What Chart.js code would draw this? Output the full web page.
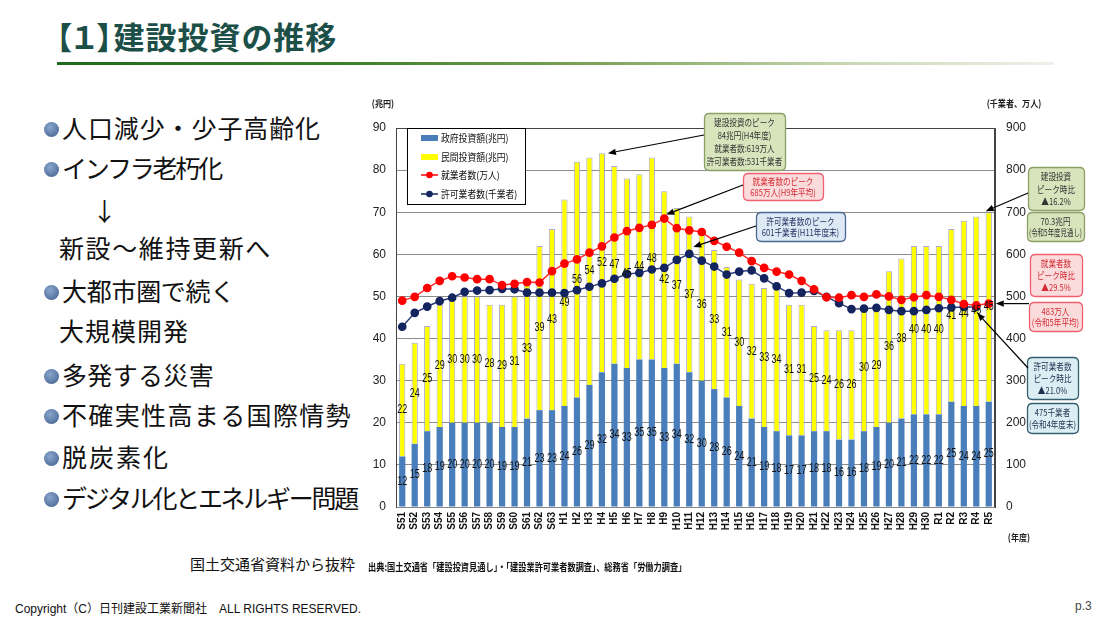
<!DOCTYPE html>
<html><head><meta charset="utf-8">
<script src="https://cdn.jsdelivr.net/npm/chart.js@4.4.1/dist/chart.umd.min.js"></script>
<style>
html,body{margin:0;padding:0;background:#fff;}
body{width:1100px;height:618px;position:relative;overflow:hidden;font-family:"Noto Sans CJK JP",sans-serif;}
.abs{position:absolute;white-space:nowrap;}
#title{left:56px;top:16px;font-size:31px;font-weight:bold;color:#1c4f47;line-height:40px;font-feature-settings:"palt";letter-spacing:1px;}
#rule{left:57px;top:62px;width:997px;height:3px;background:linear-gradient(to right,#1f6a1f 0%,#3f802c 30%,#80a55c 55%,#c9d8b5 80%,#eef1ea 100%);}
.ln{position:absolute;left:44px;font-size:25px;line-height:34px;color:#111;white-space:nowrap;}
.dot{display:inline-block;width:15px;height:15px;border-radius:50%;background:radial-gradient(circle at 40% 35%,#8aa6cc,#3e5d8e);margin-right:3px;vertical-align:middle;position:relative;top:-2px;}
#chartbox{position:absolute;left:360px;top:90px;width:740px;height:470px;}
#src{left:368px;top:559px;font-size:10px;font-weight:bold;color:#111;transform:scaleX(0.82);transform-origin:0 0;}
#ext{left:190px;top:553px;font-size:15px;color:#111;}
#copy{left:15px;top:599px;font-size:12px;color:#111;font-family:"Liberation Sans","Noto Sans CJK JP",sans-serif;}
#page{left:1075px;top:599px;font-size:12px;color:#444;font-family:"Liberation Sans",sans-serif;}
</style></head>
<body>
<div id="title" class="abs">【１】建設投資の推移</div>
<div id="rule" class="abs"></div>

<div class="ln" style="top:110px"><span class="dot"></span><span class="t" data-w="259">人口減少・少子高齢化</span></div>
<div class="ln" style="top:150px"><span class="dot"></span><span class="t" data-w="159">インフラ老朽化</span></div>
<div class="ln" style="top:193px;left:92px">↓</div>
<div class="ln" style="top:230px;left:59px"><span class="t" data-w="213">新設～維持更新へ</span></div>
<div class="ln" style="top:273px"><span class="dot"></span><span class="t" data-w="173">大都市圏で続く</span></div>
<div class="ln" style="top:313px;left:59px"><span class="t" data-w="130">大規模開発</span></div>
<div class="ln" style="top:357px"><span class="dot"></span><span class="t" data-w="152">多発する災害</span></div>
<div class="ln" style="top:397px"><span class="dot"></span><span class="t" data-w="290">不確実性高まる国際情勢</span></div>
<div class="ln" style="top:439px"><span class="dot"></span><span class="t" data-w="108">脱炭素化</span></div>
<div class="ln" style="top:480px"><span class="dot"></span><span class="t" data-w="295">デジタル化とエネルギー問題</span></div>

<div id="chartbox"><canvas id="c" width="740" height="470"></canvas></div>
<div id="ext" class="abs">国土交通省資料から抜粋</div>
<div id="src" class="abs">出典:国土交通省「建設投資見通し」・「建設業許可業者数調査」、総務省「労働力調査」</div>
<div id="copy" class="abs">Copyright（C）日刊建設工業新聞社　ALL RIGHTS RESERVED.</div>
<div id="page" class="abs">p.3</div>

<script>
// ---- data ----
const categories = ['S51','S52','S53','S54','S55','S56','S57','S58','S59','S60','S61','S62','S63',
  'H1','H2','H3','H4','H5','H6','H7','H8','H9','H10','H11','H12','H13','H14','H15','H16','H17','H18','H19','H20',
  'H21','H22','H23','H24','H25','H26','H27','H28','H29','H30','R1','R2','R3','R4','R5'];
const govInvest = [12,15,18,19,20,20,20,20,19,19,21,23,23,
  24,26,29,32,34,33,35,35,33,34,32,30,28,26,24,21,19,18,17,17,
  18,18,16,16,18,19,20,21,22,22,22,25,24,24,25];
const privInvest = [22,24,25,29,30,30,30,28,29,31,33,39,43,
  49,56,54,52,47,45,44,48,42,37,37,36,33,31,30,32,33,34,31,31,
  25,24,26,26,30,29,36,38,40,40,40,41,44,45,45];
const workers = [490,499,520,537,548,545,541,541,527,530,534,533,560,
  578,588,604,619,640,655,663,670,685,662,657,653,632,618,604,584,568,559,552,537,
  517,498,497,503,499,505,500,492,498,503,499,492,482,479,483];
const permits = [428,461,476,489,497,511,514,515,518,517,509,509,509,
  508,515,523,531,542,553,556,564,568,587,601,585,571,552,559,562,543,524,508,509,
  513,499,484,470,471,473,468,465,465,468,472,474,475,475,null];
const leftAxis = {min:0, max:90, step:10};
const rightAxis = {min:0, max:900, step:100};

// fit bullet text widths to the slide layout
document.querySelectorAll('.ln .t').forEach(s=>{
  const target = +s.dataset.w, n = [...s.textContent].length;
  const w = s.getBoundingClientRect().width;
  s.style.letterSpacing = ((target - w)/n).toFixed(2)+'px';
});

const COL = {gov:'#4a7ebb', priv:'#ffff00', red:'#ff0000', navy:'#13245e'};
const OX = 360, OY = 90; // canvas origin on page

function ctext(ctx, txt, x, y, sx, align, maxW){
  ctx.save(); ctx.translate(x,y); ctx.scale(sx,1);
  ctx.textAlign = align || 'center'; ctx.textBaseline = 'middle';
  if (maxW) ctx.fillText(txt,0,0,maxW/sx); else ctx.fillText(txt,0,0);
  ctx.restore();
}
function rrect(ctx,x,y,w,h,r){
  ctx.beginPath(); ctx.moveTo(x+r,y); ctx.lineTo(x+w-r,y); ctx.quadraticCurveTo(x+w,y,x+w,y+r);
  ctx.lineTo(x+w,y+h-r); ctx.quadraticCurveTo(x+w,y+h,x+w-r,y+h); ctx.lineTo(x+r,y+h);
  ctx.quadraticCurveTo(x,y+h,x,y+h-r); ctx.lineTo(x,y+r); ctx.quadraticCurveTo(x,y,x+r,y); ctx.closePath();
}
function arrow(ctx,x1,y1,x2,y2){
  ctx.save(); ctx.strokeStyle='#000'; ctx.fillStyle='#000'; ctx.lineWidth=1.2;
  const a = Math.atan2(y2-y1,x2-x1), L=8, W=3.2;
  const bx = x2-L*Math.cos(a), by = y2-L*Math.sin(a);
  ctx.beginPath(); ctx.moveTo(x1,y1); ctx.lineTo(bx,by); ctx.stroke();
  ctx.beginPath(); ctx.moveTo(x2,y2);
  ctx.lineTo(bx+W*Math.sin(a), by-W*Math.cos(a)); ctx.lineTo(bx-W*Math.sin(a), by+W*Math.cos(a));
  ctx.closePath(); ctx.fill(); ctx.restore();
}
const STY = {
  green:{fill:'#d8e4bc', stroke:'#8aa064', text:'#333'},
  pink:{fill:'#fadcdc', stroke:'#f0606e', text:'#d42c36'},
  blue:{fill:'#dde9f5', stroke:'#4a6890', text:'#1f2f5f'},
  teal:{fill:'#dbeef3', stroke:'#345f6f', text:'#1f2f4f'}
};
// callout boxes (page coords): [x,y,w,h,style,lines]
const boxes = [
  [704,113,81,57,'green',['建設投資のピーク','84兆円(H4年度)','就業者数:619万人','許可業者数:531千業者']],
  [743,173,80,27,'pink',['就業者数のピーク','685万人(H9年平均)']],
  [756,212,89,29,'blue',['許可業者数のピーク','601千業者(H11年度末)']],
  [1028,167,56,43,'green',['建設投資','ピーク時比','▲16.2%']],
  [1027,212,57,29,'green',['70.3兆円','(令和5年度見通し)']],
  [1030,254,52,42,'pink',['就業者数','ピーク時比','▲29.5%']],
  [1029,302,53,29,'pink',['483万人','(令和5年平均)']],
  [1027,357,51,42,'teal',['許可業者数','ピーク時比','▲21.0%']],
  [1027,403,51,30,'teal',['475千業者','(令和4年度末)']]
];

const deco = {
  id:'deco',
  afterDatasetsDraw(chart){
    const ctx = chart.ctx;
    ctx.save();
    ctx.fillStyle = '#111';
    ctx.font = '12px "Liberation Sans", Arial, sans-serif';
    [2,3].forEach(di=>{
      const meta = chart.getDatasetMeta(di);
      const vals = chart.data.datasets[di].data;
      meta.data.forEach((el,i)=>{
        const cy = (el.y + el.base)/2;
        ctext(ctx, String(vals[i]), el.x, cy, 0.75, 'center');
      });
    });
    ctx.restore();
  },
  afterDraw(chart){
    const ctx = chart.ctx, a = chart.chartArea;
    const xs = chart.scales.x, ys = chart.scales.y, y2 = chart.scales.y2;
    ctx.save();
    // plot frame
    ctx.strokeStyle = '#444'; ctx.lineWidth = 1;
    ctx.beginPath(); ctx.moveTo(a.left+0.5,a.bottom); ctx.lineTo(a.left+0.5,a.top+0.5);
    ctx.lineTo(a.right-0.5,a.top+0.5); ctx.lineTo(a.right-0.5,a.bottom); ctx.stroke();

    // legend
    const lx = 407-OX, ly = 128-OY;
    ctx.fillStyle='#fff'; ctx.fillRect(lx,ly,118,76);
    ctx.strokeStyle='#000'; ctx.lineWidth=1; ctx.strokeRect(lx+0.5,ly+0.5,118,76);
    const leg = [
      {t:chart.data.datasets[2].label, k:'bar', c:COL.gov},
      {t:chart.data.datasets[3].label, k:'bar', c:COL.priv},
      {t:chart.data.datasets[0].label, k:'line', c:COL.red},
      {t:chart.data.datasets[1].label, k:'line', c:COL.navy}
    ];
    const ly0 = [138,157,175,194];
    leg.forEach((e,i)=>{
      const yy = ly0[i]-OY, sx0 = 421-OX;
      if (e.k==='bar'){ ctx.fillStyle=e.c; ctx.fillRect(sx0,yy-3,17,6); }
      else {
        ctx.strokeStyle=e.c; ctx.lineWidth=1.5; ctx.beginPath(); ctx.moveTo(sx0,yy); ctx.lineTo(sx0+17,yy); ctx.stroke();
        ctx.fillStyle=e.c; ctx.beginPath(); ctx.arc(sx0+8.5,yy,3.3,0,Math.PI*2); ctx.fill();
      }
      ctx.fillStyle='#111'; ctx.font='10px "Noto Sans CJK JP", sans-serif';
      ctext(ctx, e.t, 441-OX, yy, 0.88, 'left');
    });

    // axis titles
    ctx.fillStyle='#222'; ctx.font='bold 9.5px "Noto Sans CJK JP", sans-serif';
    ctext(ctx,'(兆円)', 383-OX, 103-OY, 0.85,'center');
    ctext(ctx,'(千業者、万人)', 1014-OX, 103-OY, 0.85,'center');
    ctext(ctx,'(年度)', 1019-OX, 537-OY, 0.85,'center');

    // callouts
    boxes.forEach(b=>{
      const [px,py,w,h,s,lines] = b, st = STY[s];
      const x = px-OX, y = py-OY;
      ctx.fillStyle = st.fill; ctx.strokeStyle = st.stroke; ctx.lineWidth = 1.3;
      rrect(ctx,x+0.5,y+0.5,w,h,5); ctx.fill(); ctx.stroke();
      ctx.fillStyle = st.text; ctx.font = '9.5px "Noto Sans CJK JP", sans-serif';
      const n = lines.length, step = (h-6)/n;
      lines.forEach((t,i)=>{ ctext(ctx, t, x+w/2, y+3+step*(i+0.5)+0.5, 0.8, 'center', w-4); });
    });

    // arrows pointing at data through the scales
    const iH4 = categories.indexOf('H4'), iH9 = categories.indexOf('H9'), iH11 = categories.indexOf('H11');
    const iR4 = categories.indexOf('R4'), iR5 = categories.indexOf('R5');
    arrow(ctx, 704-OX, 135-OY, xs.getPixelForValue(iH4)+6, ys.getPixelForValue(govInvest[iH4]+privInvest[iH4]));
    arrow(ctx, 743-OX, 185-OY, xs.getPixelForValue(iH9)+2, y2.getPixelForValue(workers[iH9])-4);
    arrow(ctx, 756-OX, 226-OY, xs.getPixelForValue(iH11)+4, y2.getPixelForValue(permits[iH11])-7);
    arrow(ctx, 1028-OX, 193-OY, xs.getPixelForValue(iR5)-3, ys.getPixelForValue(govInvest[iR5]+privInvest[iR5])-1);
    arrow(ctx, 1029-OX, y2.getPixelForValue(workers[iR5]), xs.getPixelForValue(iR5)+7, y2.getPixelForValue(workers[iR5]));
    arrow(ctx, 1028-OX, 368-OY, xs.getPixelForValue(iR4)+1, y2.getPixelForValue(permits[iR4])+6);
    ctx.restore();
  }
};

const tickFont = {family:'"Liberation Sans", Arial, sans-serif', size:12};
new Chart(document.getElementById('c'), {
  type:'bar',
  data:{
    labels:categories,
    datasets:[
      {type:'line', label:'就業者数(万人)', data:workers, yAxisID:'y2', borderColor:'#ff2a2a',
       backgroundColor:COL.red, pointBackgroundColor:COL.red, pointBorderColor:COL.red,
       pointRadius:3.6, borderWidth:1.5, order:0, tension:0},
      {type:'line', label:'許可業者数(千業者)', data:permits, yAxisID:'y2', borderColor:'#2b3b7a',
       backgroundColor:COL.navy, pointBackgroundColor:COL.navy, pointBorderColor:COL.navy,
       pointRadius:3.6, borderWidth:1.5, order:0, tension:0},
      {label:'政府投資額(兆円)', data:govInvest, yAxisID:'y', backgroundColor:COL.gov,
       borderWidth:0, order:1, barPercentage:0.5, categoryPercentage:1},
      {label:'民間投資額(兆円)', data:privInvest, yAxisID:'y', backgroundColor:COL.priv,
       borderColor:'rgba(150,150,195,0.8)', borderWidth:1, order:1, barPercentage:0.5, categoryPercentage:1}
    ]
  },
  options:{
    responsive:false, animation:false,
    layout:{padding:{top:38,left:0,right:60,bottom:0}},
    plugins:{legend:{display:false}, tooltip:{enabled:false}},
    scales:{
      x:{stacked:true, grid:{display:false, drawTicks:false}, border:{display:true,color:'#888'},
         ticks:{autoSkip:false, minRotation:90, maxRotation:90, padding:5, color:'#111',
                font:{family:'"Liberation Sans", Arial, sans-serif', size:10, weight:'bold'}},
         afterFit(s){ s.height = 53; }},
      y:{stacked:true, min:leftAxis.min, max:leftAxis.max,
         ticks:{stepSize:leftAxis.step, padding:10, color:'#222', font:tickFont},
         grid:{color:'#8c8c8c', drawTicks:false}, border:{display:true,color:'#444'},
         afterFit(s){ s.width = 36; }},
      y2:{position:'right', min:rightAxis.min, max:rightAxis.max,
         ticks:{stepSize:rightAxis.step, padding:11, color:'#222', font:tickFont},
         grid:{display:false, drawTicks:false}, border:{display:true,color:'#444'},
         afterFit(s){ s.width = 45; }}
    }
  },
  plugins:[deco]
});
</script>
</body></html>
